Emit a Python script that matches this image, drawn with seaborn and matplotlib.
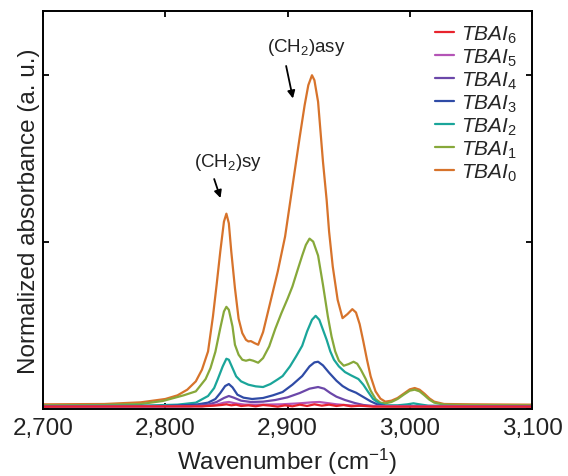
import matplotlib
matplotlib.use("Agg")
import matplotlib.pyplot as plt
import seaborn as sns
import pandas as pd
from matplotlib.ticker import FuncFormatter, FixedLocator

sns.set_theme(style="ticks")
plt.rcParams['font.family'] = ['Liberation Sans', 'DejaVu Sans']
plt.rcParams['mathtext.fontset'] = 'custom'
plt.rcParams['mathtext.rm'] = 'Liberation Sans'
plt.rcParams['mathtext.it'] = 'Liberation Sans:italic'

# ---- data ----
wn0 = [2700, 2750, 2780, 2800, 2810, 2818, 2825, 2830, 2835, 2839, 2842, 2845, 2848, 2850, 2852, 2854, 2857, 2860,
       2863, 2866, 2868, 2870, 2873, 2876, 2880, 2886, 2892, 2898, 2902, 2906, 2910, 2914, 2917, 2920, 2922, 2925,
       2927, 2929, 2932, 2934, 2937, 2941, 2945, 2949, 2953, 2956, 2959, 2962, 2965, 2968, 2972, 2976, 2980, 2985,
       2990, 2995, 3000, 3004, 3008, 3012, 3016, 3020, 3028, 3050, 3100]
tbai0 = [0.011, 0.012, 0.017, 0.027, 0.038, 0.055, 0.080, 0.115, 0.170, 0.275, 0.370, 0.470, 0.560, 0.584, 0.555,
         0.470, 0.360, 0.268, 0.225, 0.205, 0.200, 0.201, 0.195, 0.190, 0.228, 0.319, 0.410, 0.515, 0.615, 0.715,
         0.815, 0.910, 0.970, 1.000, 0.985, 0.920, 0.830, 0.740, 0.625, 0.530, 0.425, 0.325, 0.270, 0.282, 0.297,
         0.287, 0.252, 0.200, 0.145, 0.095, 0.050, 0.028, 0.019, 0.022, 0.030, 0.043, 0.056, 0.060, 0.055, 0.043,
         0.029, 0.019, 0.012, 0.011, 0.010]

wn1 = [2700, 2750, 2780, 2798, 2815, 2825, 2833, 2837, 2841, 2845, 2848, 2850, 2852, 2855, 2857, 2860, 2863, 2866,
       2869, 2872, 2876, 2880, 2885, 2890, 2895, 2900, 2904, 2908, 2912, 2915, 2918, 2921, 2925, 2929, 2933, 2936,
       2939, 2942, 2946, 2950, 2954, 2957, 2960, 2964, 2968, 2972, 2976, 2980, 2985, 2990, 2995, 3000, 3004, 3008,
       3012, 3016, 3020, 3028, 3050, 3100]
tbai1 = [0.008, 0.009, 0.012, 0.021, 0.038, 0.050, 0.087, 0.120, 0.169, 0.240, 0.290, 0.304, 0.295, 0.245, 0.190,
         0.160, 0.145, 0.142, 0.145, 0.142, 0.136, 0.150, 0.185, 0.238, 0.285, 0.328, 0.365, 0.412, 0.458, 0.490,
         0.509, 0.500, 0.458, 0.370, 0.275, 0.215, 0.170, 0.142, 0.127, 0.132, 0.139, 0.133, 0.115, 0.087, 0.052,
         0.027, 0.016, 0.014, 0.018, 0.027, 0.040, 0.052, 0.055, 0.050, 0.038, 0.025, 0.016, 0.010, 0.009, 0.008]

wn2 = [2700, 2780, 2810, 2825, 2835, 2840, 2843, 2847, 2850, 2852, 2855, 2858, 2862, 2868, 2874, 2880, 2886, 2892,
       2896, 2902, 2907, 2912, 2916, 2920, 2923, 2926, 2929, 2932, 2935, 2938, 2942, 2947, 2952, 2958, 2962, 2966,
       2970, 2975, 2980, 2990, 2998, 3003, 3008, 3015, 3050, 3100]
tbai2 = [0.006, 0.007, 0.010, 0.016, 0.036, 0.060, 0.087, 0.125, 0.148, 0.145, 0.120, 0.095, 0.080, 0.070, 0.065,
         0.063, 0.072, 0.086, 0.096, 0.125, 0.155, 0.187, 0.230, 0.265, 0.277, 0.265, 0.235, 0.205, 0.170, 0.145,
         0.125, 0.108, 0.098, 0.087, 0.070, 0.048, 0.027, 0.014, 0.008, 0.008, 0.011, 0.014, 0.011, 0.007, 0.005,
         0.005]

wn3 = [2700, 2800, 2825, 2835, 2841, 2845, 2849, 2852, 2855, 2859, 2864, 2871, 2880, 2888, 2896, 2904, 2912, 2918,
       2922, 2925, 2929, 2934, 2940, 2945, 2950, 2956, 2962, 2968, 2974, 2980, 3000, 3100]
tbai3 = [0.005, 0.006, 0.010, 0.016, 0.027, 0.045, 0.066, 0.072, 0.062, 0.040, 0.031, 0.027, 0.030, 0.038, 0.048,
         0.070, 0.096, 0.125, 0.137, 0.139, 0.128, 0.106, 0.082, 0.066, 0.055, 0.046, 0.033, 0.020, 0.010, 0.006,
         0.006, 0.005]

wn4 = [2700, 2820, 2835, 2842, 2848, 2852, 2856, 2862, 2870, 2880, 2890, 2900, 2910, 2918, 2925, 2930, 2935, 2940,
       2947, 2955, 2962, 2970, 3000, 3100]
tbai4 = [0.004, 0.005, 0.010, 0.018, 0.030, 0.036, 0.031, 0.022, 0.018, 0.019, 0.024, 0.032, 0.045, 0.058, 0.063,
         0.058, 0.045, 0.034, 0.024, 0.015, 0.009, 0.006, 0.005, 0.004]

wn5 = [2700, 2830, 2842, 2848, 2852, 2857, 2865, 2880, 2895, 2910, 2920, 2926, 2932, 2940, 2950, 2962, 3000, 3100]
tbai5 = [0.004, 0.005, 0.010, 0.016, 0.018, 0.014, 0.010, 0.010, 0.011, 0.014, 0.017, 0.018, 0.015, 0.011, 0.008,
         0.006, 0.005, 0.004]

wn6 = [2700, 2830, 2840, 2846, 2850, 2854, 2858, 2862, 2868, 2874, 2880, 2886, 2892, 2898, 2904, 2910, 2916, 2922,
       2928, 2934, 2940, 2946, 2952, 2960, 2970, 3000, 3100]
tbai6 = [0.004, 0.005, 0.007, 0.009, 0.011, 0.008, 0.010, 0.006, 0.008, 0.005, 0.009, 0.007, 0.004, 0.008, 0.005,
         0.010, 0.006, 0.011, 0.007, 0.010, 0.006, 0.009, 0.005, 0.007, 0.004, 0.004, 0.004]

series_names = ['TBAI0', 'TBAI1', 'TBAI2', 'TBAI3', 'TBAI4', 'TBAI5', 'TBAI6']
series_x = [wn0, wn1, wn2, wn3, wn4, wn5, wn6]
series_y = [tbai0, tbai1, tbai2, tbai3, tbai4, tbai5, tbai6]
colors = ['#d7732b', '#87a83a', '#1aa59a', '#2f4ba6', '#6b47a9', '#b454b6', '#e8232d']
labels = [r'$\mathit{TBAI}_{\mathregular{%s}}$' % n[-1] for n in series_names]

x_ticks = [2700, 2800, 2900, 3000, 3100]
y_ticks = [0.0, 0.5, 1.0]

rows = []
for name, xs, ys in zip(series_names, series_x, series_y):
    for x, y in zip(xs, ys):
        rows.append((name, x, y))
df = pd.DataFrame(rows, columns=['sample', 'wn', 'val'])

fig = plt.figure(figsize=(5.68, 4.77), dpi=100)
ax = fig.add_axes([0.0757, 0.1405, 0.861, 0.8343])

for name, col, lab in zip(series_names, colors, labels):
    sub = df[df['sample'] == name]
    sns.lineplot(data=sub, x='wn', y='val', ax=ax, color=col, lw=1.6, label=lab, sort=True)

h, l = ax.get_legend_handles_labels()
ax.legend(h[::-1], l[::-1], loc='upper right', frameon=False, fontsize=15,
          handlelength=0.9, handletextpad=0.35, labelspacing=0.08,
          bbox_to_anchor=(1.0, 1.005), borderaxespad=0.3)

ax.set_xlim(2700, 3100)
ax.set_ylim(-0.003, 1.193)
ax.xaxis.set_major_locator(FixedLocator(x_ticks))
ax.xaxis.set_major_formatter(FuncFormatter(lambda v, p: f'{int(v):,}'))
ax.yaxis.set_major_locator(FixedLocator(y_ticks))
ax.set_yticklabels([])
ax.tick_params(direction='in', length=4.5, width=1.3, top=True, right=True, labelsize=17.5, pad=6, colors='black')
ax.tick_params(axis='x', labelcolor='#222222')
for s in ax.spines.values():
    s.set_linewidth(1.4)
    s.set_color('black')

ax.set_xlabel('Wavenumber (cm$^{-1}$)', fontsize=17.5, labelpad=5, color='#222222')
ax.set_ylabel('Normalized absorbance (a. u.)', fontsize=17.5, color='#222222')
ax.yaxis.set_label_coords(-0.006, 0.5)

ax.annotate('', xy=(2904.9, 0.922), xytext=(2898.4, 1.036),
            arrowprops=dict(arrowstyle='-|>', color='black', lw=1.3, mutation_scale=11))
ax.text(2915.6, 1.087, r'(CH$_{2}$)asy', ha='center', va='center', fontsize=13.5, color='#222222')
ax.annotate('', xy=(2845.9, 0.623), xytext=(2839.3, 0.696),
            arrowprops=dict(arrowstyle='-|>', color='black', lw=1.3, mutation_scale=11))
ax.text(2851.6, 0.741, r'(CH$_{2}$)sy', ha='center', va='center', fontsize=13.5, color='#222222')

fig.savefig('out.png', dpi=100)
